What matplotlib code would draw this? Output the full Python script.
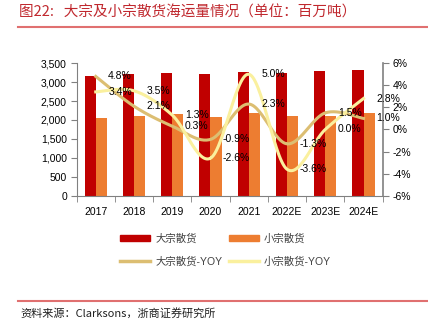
import numpy as np
import matplotlib.pyplot as plt
from matplotlib.patches import Patch
from matplotlib.lines import Line2D

plt.rcParams['font.family'] = ['Liberation Sans', 'Noto Sans CJK SC', 'DejaVu Sans']

years = ['2017', '2018', '2019', '2020', '2021', '2022E', '2023E', '2024E']
major_bulk = [3150, 3215, 3235, 3205, 3280, 3230, 3290, 3320]
minor_bulk = [2045, 2115, 2150, 2090, 2195, 2115, 2115, 2180]
major_yoy = [4.8, 2.1, 0.3, -0.9, 2.3, -1.3, 1.5, 1.0]
minor_yoy = [3.4, 3.5, 1.3, -2.6, 5.0, -3.6, 0.0, 2.8]

c_major = '#C00000'
c_minor = '#ED7D31'
c_major_yoy = '#DCBE72'
c_minor_yoy = '#FAF09E'


def smooth(x, y, n=30):
    # Catmull-Rom style smoothing like Excel's smoothed lines
    x = np.asarray(x, float)
    y = np.asarray(y, float)
    xs, ys = [], []
    for i in range(len(x) - 1):
        p0 = (x[i - 1], y[i - 1]) if i > 0 else (x[i], y[i])
        p1 = (x[i], y[i])
        p2 = (x[i + 1], y[i + 1])
        p3 = (x[i + 2], y[i + 2]) if i + 2 < len(x) else (x[i + 1], y[i + 1])
        t = np.linspace(0, 1, n)
        for k in range(2):
            a, b, c, d = p0[k], p1[k], p2[k], p3[k]
            v = 0.5 * ((2 * b) + (-a + c) * t + (2 * a - 5 * b + 4 * c - d) * t ** 2
                       + (-a + 3 * b - 3 * c + d) * t ** 3)
            (xs if k == 0 else ys).append(v)
    return np.concatenate(xs), np.concatenate(ys)


fig = plt.figure(figsize=(4.28, 3.29), dpi=100)
ax = fig.add_axes([0.179, 0.405, 0.715, 0.403])
ax2 = ax.twinx()

x = np.arange(len(years))
w = 0.29
ax.bar(x - w / 2, major_bulk, w, color=c_major, zorder=2)
ax.bar(x + w / 2, minor_bulk, w, color=c_minor, zorder=2)

ax.set_ylim(0, 3500)
ax.set_yticks(range(0, 3501, 500))
ax.set_yticklabels([f'{v:,}' for v in range(0, 3501, 500)])
ax.set_xlim(-0.5, len(years) - 0.5)
ax.set_xticks(x)
ax.set_xticklabels(years)
ax.set_xticks(np.arange(-0.5, len(years)), minor=True)
ax.tick_params(axis='x', which='major', length=0, pad=8)
ax.tick_params(axis='x', which='minor', length=4, color='#808080')
ax.tick_params(axis='y', length=4, color='#808080', pad=3)
ax.tick_params(labelsize=7.5)

sx, sy = smooth(x, major_yoy)
ax2.plot(sx, sy, color=c_major_yoy, lw=2.2, zorder=3)
sx, sy = smooth(x, minor_yoy)
ax2.plot(sx, sy, color=c_minor_yoy, lw=2.2, zorder=3)
ax2.set_ylim(-6, 6)
ax2.set_yticks(range(-6, 7, 2))
ax2.set_yticklabels([f'{v}%' for v in range(-6, 7, 2)])
ax2.tick_params(axis='y', length=4, color='#808080', labelsize=7.5, pad=3)

for vals in (major_yoy, minor_yoy):
    for xi, v in zip(x, vals):
        ax2.annotate(f'{v:.1f}%', (xi, v), xytext=(9, 0), textcoords='offset points',
                     va='center', ha='left', fontsize=7.5, zorder=5)

for a in (ax, ax2):
    a.spines['top'].set_visible(False)
    for s in ('left', 'right', 'bottom'):
        a.spines[s].set_color('#808080')
ax.spines['right'].set_visible(False)
ax2.spines['left'].set_visible(False)
ax2.spines['bottom'].set_visible(False)
ax2.spines['right'].set_linewidth(1.2)

# column-major order so rows read: bars, then YOY lines
handles = [Patch(color=c_major), Line2D([], [], color=c_major_yoy, lw=2.5),
           Patch(color=c_minor), Line2D([], [], color=c_minor_yoy, lw=2.5)]
labels = ['大宗散货', '大宗散货-YOY', '小宗散货', '小宗散货-YOY']
leg = fig.legend(handles, labels, ncol=2, loc='center', bbox_to_anchor=(0.527, 0.24),
                 frameon=False, fontsize=7.5, handlelength=2.9, handleheight=0.6,
                 labelspacing=1.2, columnspacing=0.6, handletextpad=0.5)
for t in leg.get_texts():
    t.set_color('#404040')

fig.text(0.045, 0.962, '图22:   大宗及小宗散货海运量情况（单位：百万吨）', fontsize=10.5,
         color='#C0282E', va='center', family=['Noto Sans CJK SC', 'DejaVu Sans'])
fig.add_artist(Line2D([0.042, 1.0], [0.918, 0.918], color='#E07070', lw=1.5))
fig.add_artist(Line2D([0.042, 1.0], [0.085, 0.085], color='#E07070', lw=1.5))
fig.text(0.047, 0.048, '资料来源：Clarksons，浙商证券研究所', fontsize=8, color='#202020',
         va='center', family=['Noto Sans CJK SC', 'DejaVu Sans'])

fig.savefig('out.png', dpi=100)
